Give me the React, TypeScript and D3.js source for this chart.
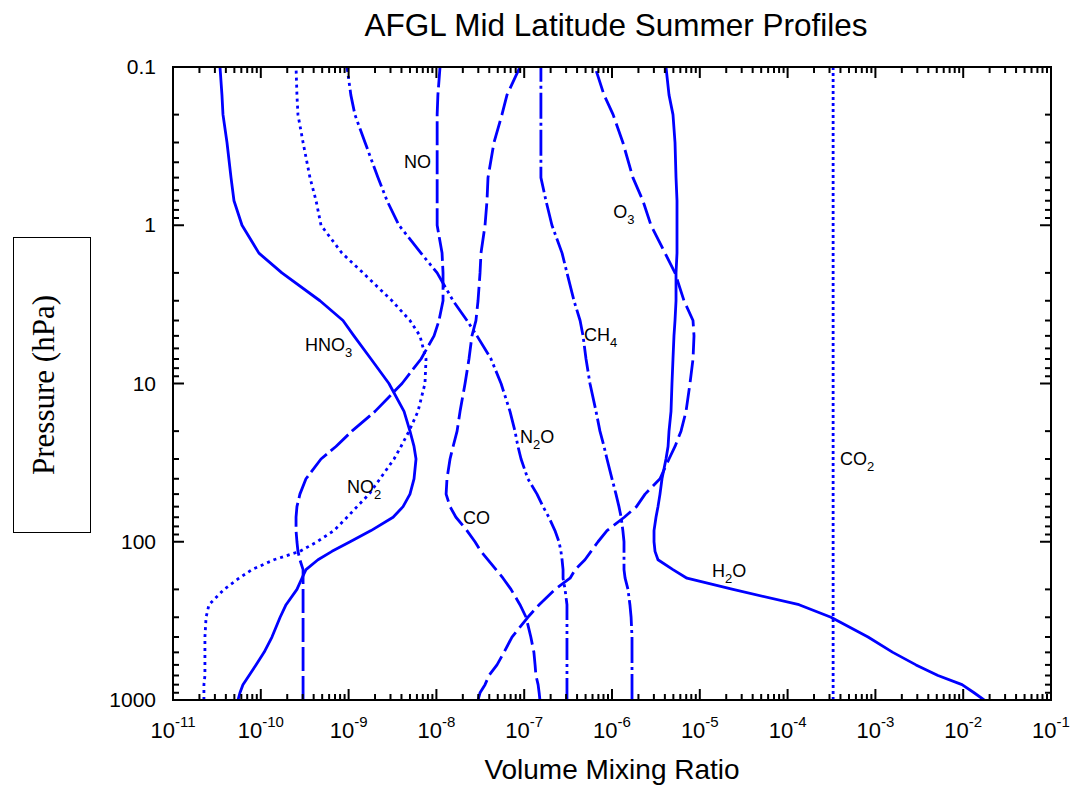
import React, { useEffect, useRef } from 'react';
import * as d3 from 'd3';

// pressure levels (hPa) shared by all profiles
const pressure = [1000, 900, 800, 700, 600, 500, 400, 300, 250, 200, 170, 150, 130, 115, 100, 85, 70, 60, 50, 40, 30, 25, 20, 15, 10, 7, 5, 4, 3, 2, 1.5, 1, 0.7, 0.5, 0.3, 0.2, 0.15, 0.1];

// mixing ratios in ppmv at the levels above
const h2o = [17300, 13300, 9700, 5160, 2900, 1580, 824, 312, 135, 23.9, 7.14, 4.95, 3.34, 3.09, 3.01, 3.01, 3.17, 3.34, 3.52, 3.71, 4.12, 4.35, 4.46, 4.70, 4.82, 4.95, 5.08, 5.22, 5.36, 5.36, 5.50, 5.50, 5.50, 5.36, 5.22, 4.95, 4.46, 4.12];
const co2 = [330, 330, 330, 330, 330, 330, 330, 330, 330, 330, 330, 330, 330, 330, 330, 330, 330, 330, 330, 330, 330, 330, 330, 330, 330, 330, 330, 330, 330, 330, 330, 330, 330, 330, 330, 330, 330, 330];
const o3 = [0.0298, 0.0314, 0.0358, 0.0397, 0.049, 0.0589, 0.0726, 0.110, 0.148, 0.224, 0.333, 0.380, 0.492, 0.577, 0.693, 0.877, 1.38, 1.90, 2.38, 3.52, 4.46, 5.22, 6.11, 6.97, 7.73, 8.37, 8.59, 8.37, 6.61, 5.22, 4.02, 2.78, 2.25, 1.73, 1.33, 1.03, 0.811, 0.640];
const ch4 = [1.69, 1.69, 1.69, 1.69, 1.69, 1.69, 1.69, 1.65, 1.60, 1.52, 1.41, 1.37, 1.37, 1.37, 1.37, 1.33, 1.27, 1.20, 1.11, 1.00, 0.877, 0.811, 0.729, 0.658, 0.561, 0.506, 0.468, 0.433, 0.369, 0.307, 0.270, 0.207, 0.177, 0.155, 0.155, 0.155, 0.155, 0.155];
const n2o = [0.307, 0.307, 0.307, 0.307, 0.307, 0.307, 0.307, 0.307, 0.307, 0.292, 0.277, 0.277, 0.270, 0.262, 0.249, 0.224, 0.191, 0.164, 0.140, 0.110, 0.0921, 0.0849, 0.0785, 0.0689, 0.0545, 0.0419, 0.0290, 0.0223, 0.0155, 0.0102, 0.00668, 0.00375, 0.00274, 0.00216, 0.00154, 0.00118, 0.00106, 0.00096];
const co = [0.151, 0.148, 0.144, 0.136, 0.133, 0.129, 0.119, 0.105, 0.0895, 0.0708, 0.0574, 0.0478, 0.0387, 0.0322, 0.0275, 0.0223, 0.0167, 0.0143, 0.0129, 0.0132, 0.0143, 0.0155, 0.0172, 0.0186, 0.0212, 0.0235, 0.0254, 0.0282, 0.0298, 0.0314, 0.0322, 0.0358, 0.0377, 0.0387, 0.0453, 0.0558, 0.0637, 0.0895];
const no = [3.03e-4, 3.03e-4, 3.03e-4, 3.03e-4, 3.03e-4, 3.03e-4, 3.03e-4, 3.03e-4, 3.03e-4, 3.03e-4, 3.03e-4, 3.03e-4, 2.79e-4, 2.65e-4, 2.58e-4, 2.52e-4, 2.52e-4, 2.58e-4, 2.79e-4, 3.27e-4, 4.85e-4, 7.18e-4, 1.09e-3, 2.00e-3, 4.06e-3, 6.68e-3, 9.40e-3, 0.0107, 0.0119, 0.0119, 0.0116, 0.0102, 0.0102, 0.0102, 0.0102, 0.0102, 0.0104, 0.0110];
const no2 = [2.25e-5, 2.25e-5, 2.25e-5, 2.31e-5, 2.31e-5, 2.31e-5, 2.31e-5, 2.38e-5, 2.57e-5, 3.81e-5, 5.65e-5, 7.94e-5, 1.41e-4, 2.79e-4, 4.37e-4, 6.82e-4, 9.60e-4, 1.25e-3, 1.71e-3, 2.28e-3, 3.29e-3, 3.95e-3, 4.88e-3, 6.17e-3, 7.41e-3, 7.62e-3, 6.50e-3, 5.00e-3, 3.12e-3, 1.46e-3, 8.41e-4, 4.85e-4, 4.26e-4, 3.63e-4, 3.03e-4, 2.65e-4, 2.58e-4, 2.52e-4];
const hno3 = [5.50e-5, 5.79e-5, 6.26e-5, 7.35e-5, 8.81e-5, 1.09e-4, 1.34e-4, 1.66e-4, 1.94e-4, 2.58e-4, 2.94e-4, 3.27e-4, 4.48e-4, 6.47e-4, 1.04e-3, 1.80e-3, 3.21e-3, 4.17e-3, 5.00e-3, 5.56e-3, 5.86e-3, 5.56e-3, 5.00e-3, 4.28e-3, 2.88e-3, 1.80e-3, 1.15e-3, 8.63e-4, 4.72e-4, 1.74e-4, 9.52e-5, 6.11e-5, 4.95e-5, 4.58e-5, 4.12e-5, 3.71e-5, 3.61e-5, 3.43e-5];

// species label anchors: [label, ppmv, hPa]
const labels: [string, number, number][] = [
  ['NO', 4.28e-3, 0.435],
  ['O3', 1.03, 0.9],
  ['HNO3', 3.18e-4, 6.23],
  ['CH4', 0.48, 5.39],
  ['N2O', 0.0895, 23.8],
  ['NO2', 9.6e-4, 49.2],
  ['CO', 0.0201, 77.3],
  ['H2O', 13.8, 167],
  ['CO2', 395, 32.7],
];

const yTickLabels = ['0.1', '1', '10', '100', '1000'];
const xTickExponents = ['-11', '-10', '-9', '-8', '-7', '-6', '-5', '-4', '-3', '-2', '-1'];

const series = [
  { values: h2o, dash: null },
  { values: co2, dash: '3,3' },
  { values: o3, dash: '22,6' },
  { values: ch4, dash: '26,4,3,4' },
  { values: n2o, dash: '22,4,3,4,3,4' },
  { values: co, dash: '22,6' },
  { values: no, dash: '24,5' },
  { values: no2, dash: '3,4' },
  { values: hno3, dash: null },
];

const sans = '"Liberation Sans", Arial, sans-serif';

const App = () => {
  const chartRef = useRef<SVGSVGElement>(null);

  useEffect(() => {
    const svg = d3.select(chartRef.current);
    svg.selectAll('*').remove();

    const left = 173, right = 1051, top = 67, bottom = 700;
    const x = d3.scaleLog().domain([1e-11, 1e-1]).range([left, right]);
    const y = d3.scaleLog().domain([0.1, 1000]).range([top, bottom]);
    const isMajor = (t: number) => Math.abs(Math.log10(t) - Math.round(Math.log10(t))) < 1e-6;

    svg.append('rect').attr('width', 1071).attr('height', 787).attr('fill', '#fff');

    svg.append('text')
      .attr('x', 616).attr('y', 36)
      .attr('text-anchor', 'middle')
      .style('font-family', sans).style('font-size', '31.5px')
      .text('AFGL Mid Latitude Summer Profiles');

    svg.append('clipPath').attr('id', 'plot-clip')
      .append('rect').attr('x', left).attr('y', top)
      .attr('width', right - left).attr('height', bottom - top);

    // profiles
    const line = d3.line<number>()
      .x(d => x(d * 1e-6))
      .y((d, i) => y(pressure[i]));

    const curves = svg.append('g').attr('clip-path', 'url(#plot-clip)');
    series.forEach(s => {
      curves.append('path')
        .datum(s.values)
        .attr('fill', 'none')
        .attr('stroke', '#0000ff')
        .attr('stroke-width', 2.8)
        .attr('stroke-linejoin', 'round')
        .attr('stroke-dasharray', s.dash)
        .attr('d', line);
    });

    // frame and ticks
    svg.append('rect')
      .attr('x', left).attr('y', top)
      .attr('width', right - left).attr('height', bottom - top)
      .attr('fill', 'none').attr('stroke', '#000').attr('stroke-width', 2);

    const xt = x.ticks(20);
    const yt = y.ticks();
    const ticks = svg.append('g').attr('stroke', '#000').attr('stroke-width', 2);
    ticks.selectAll('.xb').data(xt).enter().append('line')
      .attr('x1', d => x(d)).attr('x2', d => x(d))
      .attr('y1', bottom).attr('y2', d => bottom - (isMajor(d) ? 11 : 6));
    ticks.selectAll('.xt').data(xt).enter().append('line')
      .attr('x1', d => x(d)).attr('x2', d => x(d))
      .attr('y1', top).attr('y2', d => top + (isMajor(d) ? 11 : 6));
    ticks.selectAll('.yl').data(yt).enter().append('line')
      .attr('y1', d => y(d)).attr('y2', d => y(d))
      .attr('x1', left).attr('x2', d => left + (isMajor(d) ? 11 : 6));
    ticks.selectAll('.yr').data(yt).enter().append('line')
      .attr('y1', d => y(d)).attr('y2', d => y(d))
      .attr('x1', right).attr('x2', d => right - (isMajor(d) ? 11 : 6));

    // y tick labels
    svg.selectAll('.ylab').data(yTickLabels).enter().append('text')
      .attr('x', 156).attr('y', d => y(+d) + 7)
      .attr('text-anchor', 'end')
      .style('font-family', sans).style('font-size', '21px')
      .text(d => d);

    // x tick labels 10^n
    const xl = svg.selectAll('.xlab').data(xTickExponents).enter().append('text')
      .attr('x', d => x(Math.pow(10, +d)))
      .attr('y', 738)
      .attr('text-anchor', 'middle')
      .style('font-family', sans).style('font-size', '22px');
    xl.append('tspan').text('10');
    xl.append('tspan').attr('dy', -11).style('font-size', '15px').text(d => d);

    svg.append('text')
      .attr('x', 612).attr('y', 779)
      .attr('text-anchor', 'middle')
      .style('font-family', sans).style('font-size', '28px')
      .text('Volume Mixing Ratio');

    // y axis title in a box
    svg.append('rect')
      .attr('x', 13.5).attr('y', 237.5).attr('width', 77).attr('height', 295)
      .attr('fill', 'none').attr('stroke', '#000').attr('stroke-width', 1);
    svg.append('text')
      .attr('transform', 'translate(54,385) rotate(-90)')
      .attr('text-anchor', 'middle')
      .style('font-family', '"Liberation Serif", "Times New Roman", serif')
      .style('font-size', '31px')
      .text('Pressure (hPa)');

    // species labels with subscripts
    labels.forEach(([name, v, p]) => {
      const t = svg.append('text')
        .attr('x', x(v * 1e-6)).attr('y', y(p))
        .style('font-family', sans).style('font-size', '18px');
      const parts = name.match(/[A-Z]+|\d+/g) || [];
      let shifted = false;
      parts.forEach(part => {
        const isNum = /\d/.test(part);
        const ts = t.append('tspan').text(part);
        if (isNum) {
          ts.attr('dy', 6).style('font-size', '13px');
          shifted = true;
        } else if (shifted) {
          ts.attr('dy', -6);
          shifted = false;
        }
      });
    });
  }, []);

  return (
    <svg ref={chartRef} width={1071} height={787}
      style={{ position: 'absolute', left: 0, top: 0 }}></svg>
  );
};

export default App;
